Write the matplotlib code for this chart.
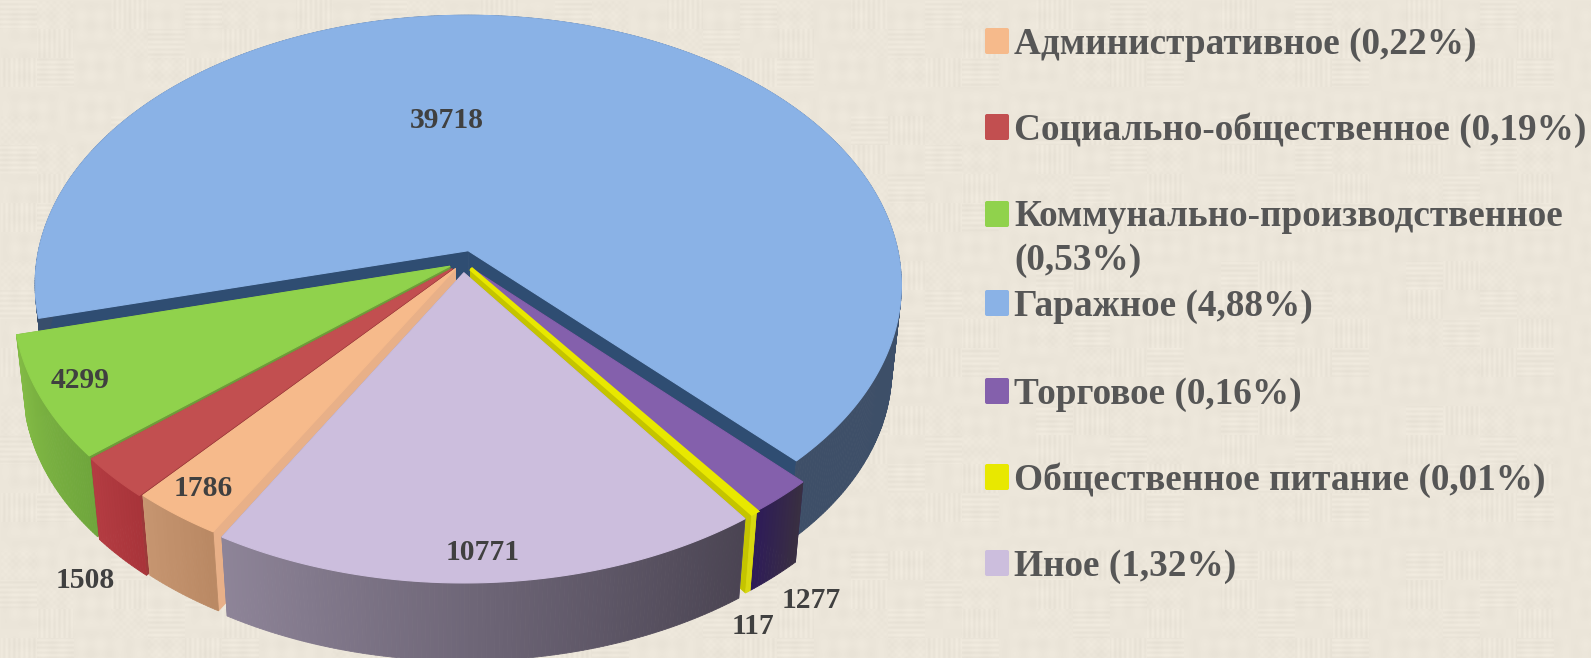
import numpy as np
import matplotlib
matplotlib.use('Agg')
import matplotlib.pyplot as plt
from matplotlib.patches import FancyBboxPatch, Polygon

categories = ['Гаражное', 'Коммунально-производственное', 'Социально-общественное', 'Административное', 'Иное', 'Общественное питание', 'Торговое']
values = [39718, 4299, 1508, 1786, 10771, 117, 1277]
legend_order = ['Административное', 'Социально-общественное', 'Коммунально-производственное', 'Гаражное', 'Торговое', 'Общественное питание', 'Иное']
legend_pct = ['0,22%', '0,19%', '0,53%', '4,88%', '0,16%', '0,01%', '1,32%']

top_col = {'Гаражное': '#8ab2e6', 'Коммунально-производственное': '#90d24c', 'Социально-общественное': '#c24f50', 'Административное': '#f6ba8b', 'Иное': '#ccbedd', 'Общественное питание': '#e8e800', 'Торговое': '#8460ac'}
wall_l = {'Гаражное': '#3e4f68', 'Коммунально-производственное': '#84bc46', 'Социально-общественное': '#b43c42', 'Административное': '#c69570', 'Иное': '#8e8498', 'Общественное питание': '#d8d810', 'Торговое': '#2e1c58'}
wall_r = {'Гаражное': '#384e6c', 'Коммунально-производственное': '#6fa63c', 'Социально-общественное': '#a8343a', 'Административное': '#b98863', 'Иное': '#4a4452', 'Общественное питание': '#d8d810', 'Торговое': '#3a3040'}
face_col = {'Гаражное': '#2f4d72', 'Коммунально-производственное': '#6e9c3a', 'Социально-общественное': '#9c3a3a', 'Административное': '#e8b088', 'Иное': '#8e8498', 'Общественное питание': '#c4c400', 'Торговое': '#3a2a60'}
explode = {'Гаражное': .044, 'Коммунально-производственное': .034, 'Социально-общественное': .035, 'Административное': .030, 'Иное': .040, 'Общественное питание': .030, 'Торговое': .030}

# чертим в пикселях, ось y вниз
W, H = 1591, 658
CX, CY, A, B, D, DEPTH, SHRINK = 463, 262, 432, 268, 7.9, 85, .978
START = -46.1

def proj(px, py, low=False):
    s = D / (D + py)
    sx, sy = A * px * s, -B * py * s
    if low:
        return CX + sx * SHRINK, CY + sy * SHRINK + DEPTH
    return CX + sx, CY + sy

def mix(c1, c2, t):
    a, b = np.array(matplotlib.colors.to_rgb(c1)), np.array(matplotlib.colors.to_rgb(c2))
    return a + (b - a) * t

fig = plt.figure(figsize=(W / 100, H / 100), dpi=100)
ax = fig.add_axes([0, 0, 1, 1])
ax.set_xlim(0, W); ax.set_ylim(H, 0); ax.axis('off')

# фон - полотно из лоскутов с горизонтальной/вертикальной штриховкой
yy, xx = np.mgrid[0:H, 0:W]
bi, bj = xx // 37, yy // 29
kind = (bi * 7 + bj * 13 + bi * bj) % 5
tex = np.where(kind == 0, np.sin(yy * 1.25), 0.0) + np.where(kind == 1, np.sin(xx * 1.25), 0.0)
tex = tex + np.where(kind == 2, .6 * np.sin(yy * .9) * np.sin(xx * .9), 0.0) + .5 * np.sin(xx * .33) * np.sin(yy * .07) + .5 * np.sin(yy * .31) * np.sin(xx * .05)
bg = np.array([236, 230, 218]) / 255
img = np.clip(bg[None, None, :] + tex[:, :, None] * .012, 0, 1)
ax.imshow(img, extent=[0, W, H, 0], aspect='auto', zorder=0, interpolation='bilinear')

total = sum(values)
angles = np.cumsum([0] + [v / total * 360 for v in values]) + START
slices = {c: (angles[i], angles[i + 1]) for i, c in enumerate(categories)}
z = 1

def draw_slice(c):
    global z
    a0, a1 = np.radians(slices[c])
    mid = (a0 + a1) / 2
    ox, oy = explode[c] * np.cos(mid), explode[c] * np.sin(mid)
    th = np.linspace(a0, a1, max(3, int(np.degrees(a1 - a0) * 2)))
    rx, ry = ox + np.cos(th), oy + np.sin(th)
    top = np.array([proj(x, y) for x, y in zip(rx, ry)])
    low = np.array([proj(x, y, True) for x, y in zip(rx, ry)])
    tip, tip_low = proj(ox, oy), proj(ox, oy, True)
    # радиальные срезы
    for i in (0, -1):
        ax.add_patch(Polygon([tip, top[i], low[i], tip_low], fc=face_col[c], ec=face_col[c], lw=.6, zorder=z))
    z += 1
    # внешняя стенка полосками с градиентом
    for i in range(len(th) - 1):
        col = mix(wall_l[c], wall_r[c], i / (len(th) - 1))
        ax.add_patch(Polygon([top[i], top[i + 1], low[i + 1], low[i]], fc=col, ec=col, lw=.6, zorder=z))
    z += 1
    edge = 3 if c == 'Общественное питание' else .8
    ax.add_patch(Polygon(np.vstack([[tip], top]), fc=top_col[c], ec=top_col[c], lw=edge, zorder=z))
    z += 1

# порядок отрисовки: от дальних к ближним
for c in ['Гаражное', 'Коммунально-производственное', 'Социально-общественное', 'Административное', 'Торговое', 'Общественное питание', 'Иное']:
    draw_slice(c)

# подписи значений
label_xy = {'Гаражное': (447, 120), 'Коммунально-производственное': (80, 381), 'Социально-общественное': (85, 580), 'Административное': (203, 489), 'Иное': (483, 553), 'Общественное питание': (753, 627), 'Торговое': (811, 600)}
for c, v in zip(categories, values):
    ax.text(*label_xy[c], str(v), family='Liberation Serif', weight='bold', size=21.3, color='#404040',
            ha='center', va='center', zorder=100)

# легенда
leg_y = [41, 127, 214, 303, 391, 477, 563]
for c, p, y in zip(legend_order, legend_pct, leg_y):
    ax.add_patch(FancyBboxPatch((985, y - 13), 24, 26, boxstyle='round,pad=0,rounding_size=2', fc=top_col[c], ec='none', zorder=100))
    lines = [f'{c} ({p})']
    if c.startswith('Коммунально'):
        lines = [c, f'({p})']
    for i, line in enumerate(lines):
        ax.text(1014, y + 3 + i * 44, line, family='Liberation Serif', weight='bold', size=26.8, color='#565656',
                va='center', ha='left', zorder=100)

fig.savefig('out.png', dpi=100)
